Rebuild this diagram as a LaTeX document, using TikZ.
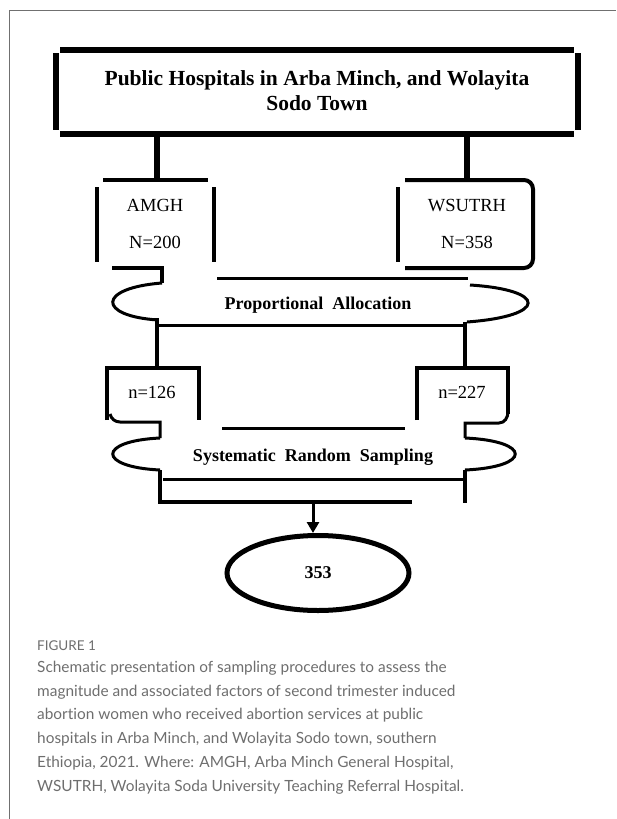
\documentclass[tikz,border=0pt]{standalone}
\usepackage{fontspec}
\setmainfont{Liberation Serif}
\newfontfamily\capfont[Ligatures={NoCommon,NoContextual}]{Lato}
\usetikzlibrary{arrows.meta,shapes.geometric}
\definecolor{capgray}{HTML}{6E6E6E}
\definecolor{framegray}{HTML}{707070}
\tikzset{
  titlebox/.style={line width=6.5pt},
  stubline/.style={line width=6pt},
  boxline/.style={line width=4pt},
  bandline/.style={line width=3pt},
  lbl/.style={font=\fontsize{18.5}{20}\selectfont, inner sep=0pt, anchor=base},
  blbl/.style={font=\fontsize{18}{22}\selectfont\bfseries, inner sep=0pt, anchor=base},
}

\begin{document}
\begin{tikzpicture}[x=1pt,y=-1pt]
    \useasboundingbox (0,0) rectangle (616,819);
    \draw[framegray, line width=1pt] (9,819) -- (9,10) -- (616,10);

    % top box
    \draw[titlebox] (60,50) -- (574,50);
    \draw[titlebox] (56,53) -- (56,130);
    \draw[titlebox] (578,53) -- (578,130);
    \draw[titlebox] (60,134) -- (574,134);
    \node[font=\fontsize{21.5}{25}\selectfont\bfseries, align=center] (town) at (317,90.5)
        {Public Hospitals in Arba Minch, and Wolayita\\Sodo Town};

    \draw[stubline] (157,134) -- (157,180);
    \draw[stubline] (467,134) -- (467,180);

    % hospitals
    \draw[boxline] (103,180) -- (208,180);
    \draw[boxline] (97,187) -- (97,262);
    \draw[boxline] (214,187) -- (214,262);
    \draw[boxline] (112,268) -- (162,268) -- (162,283);
    \node[lbl] (amgh) at (155,211) {AMGH};
    \node[lbl] (amghN) at (155,248) {N=200};

    \draw[boxline, rounded corners=9pt] (405,180) -- (533,180) -- (533,268) -- (405,268);
    \draw[boxline] (398,187) -- (398,262);
    \node[lbl] (ws) at (467,211) {WSUTRH};
    \node[lbl] (wsN) at (467,248) {N=358};

    % proportional allocation
    \draw[bandline] (217,278) -- (468,278);
    \draw[bandline] (162,283) .. controls (97,288) and (97,316) .. (158,320);
    \draw[bandline] (470,285) .. controls (548,290) and (548,316) .. (467,322);
    \draw[bandline] (157,325) -- (465,325);
    \node[blbl] (alloc) at (318,309.5) {Proportional\ \ Allocation};

    \draw[boxline] (157,318) -- (157,368);
    \draw[boxline] (465,322) -- (465,368);

    % samples
    \draw[boxline] (107,420) -- (107,368) -- (199,368) -- (199,420);
    \draw[boxline] (417,420) -- (417,368) -- (508,368) -- (508,414);
    \node[lbl] (amghn) at (152,398) {n=126};
    \node[lbl] (wsn) at (462,398) {n=227};

    % systematic random sampling
    \draw[bandline] (110,414) to[out=-75,in=180] (120,422) -- (160,422) -- (160,438);
    \draw[bandline] (160,438) .. controls (97,441) and (97,467) .. (160,470);
    \draw[boxline] (160,470) -- (160,502);
    \draw[bandline] (508,412) to[out=-90,in=0] (499,423) -- (465,423) -- (465,438);
    \draw[bandline] (465,438) .. controls (532,441) and (532,467) .. (465,470);
    \draw[boxline] (465,470) -- (465,503);
    \draw[bandline] (222,428) -- (405,428);
    \draw[bandline] (163,479) -- (465,479);
    \draw[boxline] (158,502) -- (412,502);
    \node[blbl] (srs) at (313,461.5) {Systematic\ \ Random\ \ Sampling};

    % total
    \coordinate (split) at (313,502);
    \node[draw, ellipse, line width=5pt, inner sep=0pt, minimum width=182pt, minimum height=75pt,
        font=\fontsize{18}{20}\selectfont\bfseries] (total) at (318,573) {353};
    \draw[line width=3pt, -{Triangle[length=11pt,width=12pt]}] (split) -- (split |- total.north);

    % caption
    \node[anchor=west, inner sep=0pt, text=capgray, font=\capfont\fontsize{13.5}{15}\selectfont] (fig) at (37,646) {FIGURE 1};
    \node[anchor=north west, inner sep=0pt, align=left, text=capgray, font=\capfont\fontsize{15.4}{23.7}\selectfont] (cap) at (37,661)
        {Schematic presentation of sampling procedures to assess the\\
         magnitude and associated factors of second trimester induced\\
         abortion women who received abortion services at public\\
         hospitals in Arba Minch, and Wolayita Sodo town, southern\\
         Ethiopia, 2021. Where: AMGH, Arba Minch General Hospital,\\
         WSUTRH, Wolayita Soda University Teaching Referral Hospital.};
\end{tikzpicture}
\end{document}
